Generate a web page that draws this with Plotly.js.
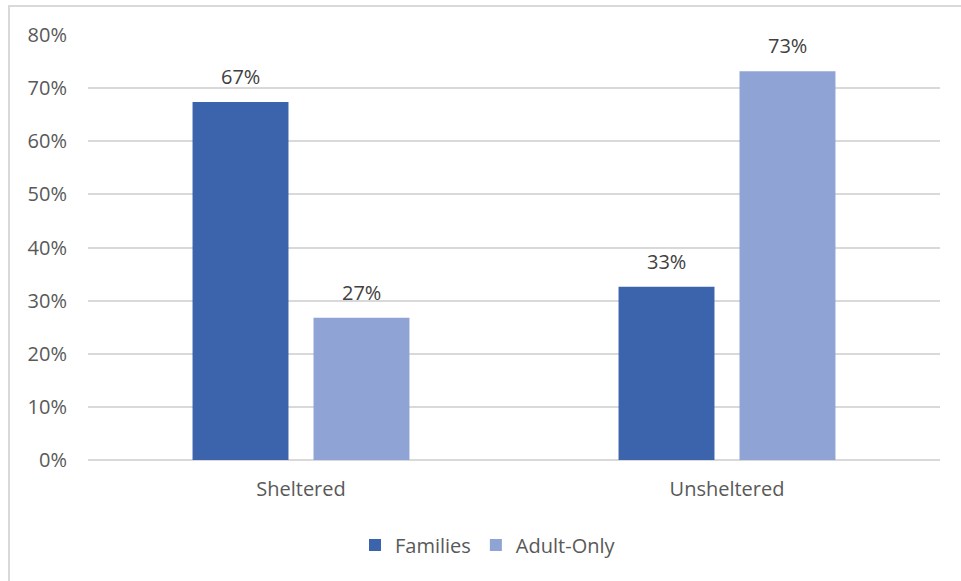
<!DOCTYPE html>
<html>
<head>
<meta charset="utf-8">
<script src="https://cdn.plot.ly/plotly-3.0.1.min.js"></script>
<style>
  html, body { margin: 0; padding: 0; background: #ffffff; }
  #frame { position: absolute; left: 8px; top: 5px; width: 1200px; height: 900px;
           border-left: 2px solid #d9d9d9; border-top: 2px solid #d9d9d9; box-sizing: border-box; }
  #chart { position: absolute; left: 0; top: 0; width: 961px; height: 581px; }
</style>
</head>
<body>
<div id="frame"></div>
<div id="chart"></div>
<script>
const categories = ["Sheltered", "Unsheltered"];
const families = [0.674, 0.326];
const adultOnly = [0.268, 0.732];
const seriesNames = ["Families", "Adult-Only"];
const tickValues = [0, 0.1, 0.2, 0.3, 0.4, 0.5, 0.6, 0.7, 0.8];
const tickLabels = ["0%", "10%", "20%", "30%", "40%", "50%", "60%", "70%", "80%"];

const colors = ["#3b64ad", "#8fa3d4"];
const FONT = "'Open Sans', Lato, sans-serif";
const FS = 20;
const bargap = 0.432;
const bargroupgap = 0.207;

const traces = [
  { type: "bar", name: seriesNames[0], x: categories, y: families,
    marker: { color: colors[0] }, hoverinfo: "skip" },
  { type: "bar", name: seriesNames[1], x: categories, y: adultOnly,
    marker: { color: colors[1] }, hoverinfo: "skip" }
];

const off = (1 - bargap) / 4;
const annotations = [];
[families, adultOnly].forEach((vals, s) => {
  vals.forEach((v, i) => {
    annotations.push({
      x: i + (s === 0 ? -off : off), y: v, xref: "x", yref: "y",
      text: Math.round(v * 100) + "%", showarrow: false,
      yanchor: "bottom", yshift: 10,
      font: { family: FONT, size: FS, color: "#404040" }
    });
  });
});

const layout = {
  width: 961, height: 581,
  margin: { l: 88, r: 21, t: 35, b: 121 },
  paper_bgcolor: "rgba(0,0,0,0)", plot_bgcolor: "rgba(0,0,0,0)",
  barmode: "group", bargap: bargap, bargroupgap: bargroupgap,
  font: { family: FONT, size: FS, color: "#595959" },
  xaxis: { type: "category", showgrid: false, zeroline: false, showline: false,
           ticks: "", ticklabelstandoff: 15, tickfont: { size: FS, color: "#595959" } },
  yaxis: { range: [0, 0.8], tickvals: tickValues, ticktext: tickLabels,
           showgrid: true, gridcolor: "#d9d9d9", gridwidth: 2,
           zeroline: true, zerolinecolor: "#d9d9d9", zerolinewidth: 2,
           showline: false, ticks: "", ticklabelstandoff: 20,
           tickfont: { size: FS, color: "#595959" } },
  showlegend: true,
  legend: { orientation: "h", x: 0.4695, xanchor: "center", y: -0.2, yanchor: "middle",
            font: { size: FS, color: "#595959" }, itemwidth: 30, traceorder: "normal" },
  annotations: annotations
};

Plotly.newPlot("chart", traces, layout, { displayModeBar: false, staticPlot: true });
</script>
</body>
</html>
